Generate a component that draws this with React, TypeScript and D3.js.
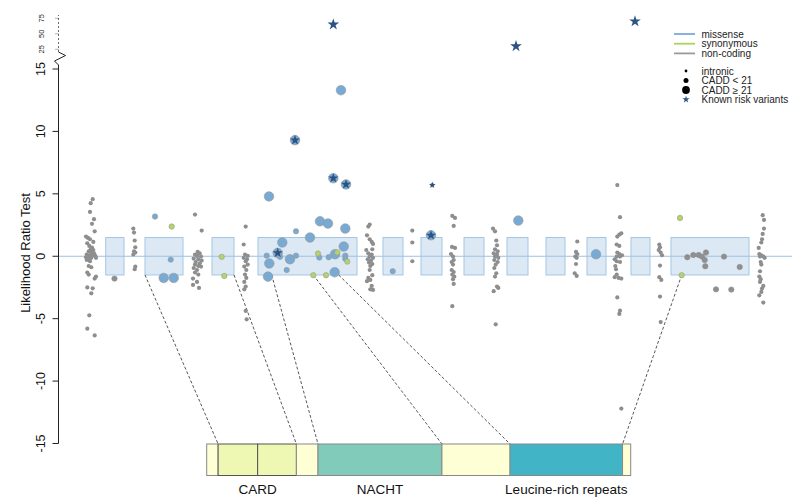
import React from "react";
import * as d3 from "d3";

// ---------- data ----------
// genomic layout positions (relative units) of exons
const exons: [number, number][] = [
  [105.7, 124], [145, 183], [212, 234], [258, 357], [383, 403], [421, 442],
  [464, 484], [507, 528], [546, 565], [587, 606], [631, 650], [671, 749],
];

// intronic variants: [position, LRT]
const intronic: [number, number][] = [
  // column 1
  [92.7, 4.57], [90.7, 4.25], [90, 3.55], [94, 2.97], [92, 2.6], [94.7, 2.0], [86, 1.58], [88, 1.47], [90, 1.36], [93.3, 1.15],
  [87.3, 1.04], [89.3, 0.83], [92, 0.7], [90.7, 0.56], [93.3, 0.5], [88.7, 0.4], [91.3, 0.3], [94, 0.24], [86.7, 0.14], [89.3, 0.08],
  [92, 0.03], [95.3, 0.03], [86, -0.08], [88.7, -0.19], [91.3, -0.13], [86.7, -0.3], [90, -0.4], [96, -0.13], [88.7, -0.78], [91.3, -0.88],
  [87.3, -1.3], [88.7, -1.47], [96, -1.63], [94.7, -1.79], [87.3, -2.5], [92.7, -2.57], [91.3, -2.97], [89.3, -4.73], [87.3, -5.8], [94.7, -6.34],
  // column 2
  [133.3, 2.22], [134, 1.9], [134.7, 1.26], [135.3, 0.72], [134, 0.4], [135.3, 0.3], [133.3, 0.14], [135.3, -0.83], [134.7, -1.04],
  // column 3
  [195, 3.34], [201.7, 2.06], [197.7, 0.35], [199.7, 0.24], [195, 0.14], [197, 0.03], [201, -0.03], [193.7, -0.19], [198.3, -0.24],
  [201.7, -0.35], [195.7, -0.46], [199.7, -0.56], [195, -0.67], [198.3, -0.78], [201, -0.83], [193.7, -0.94], [197, -1.1],
  [195, -1.3], [198.3, -1.47], [193, -1.79], [197, -2.06], [193, -2.3], [199, -2.54],
  // column 4
  [245.7, 2.38], [243.7, 0.94], [245, 0.14], [247.7, 0.03], [243.7, -0.13], [247, -0.24], [245.7, -0.4], [247.7, -0.67], [244.3, -0.83],
  [246.3, -1.1], [245, -1.47], [246.3, -1.74], [244.3, -2.06], [245.7, -2.43], [244.3, -2.65], [245.7, -4.38], [246.7, -5.05],
  // column 5
  [369.7, 2.54], [368.3, 2.38], [367, 1.68], [369.7, 1.36], [371.7, 1.15], [373, 0.99], [366.3, 0.5], [372.3, 0.56],
  [368.3, 0.24], [371.7, 0.14], [369.7, -0.03], [373, -0.13], [367.7, -0.24], [371, -0.35], [369, -0.51], [372.3, -0.62], [370.3, -0.78],
  [369.7, -1.1], [372.3, -1.52], [368.3, -1.74], [370.3, -1.9], [367, -2.0], [371.7, -2.38], [370.3, -2.65], [373, -2.7],
  // column 6
  [412.3, 2.06], [412.3, 1.1], [412.3, -0.4],
  // column 7
  [452.3, 3.23], [455, 3.07], [453.7, 2.43], [455, 0.67], [452, 0.75], [451, 0.18], [453, -0.03], [453.7, -0.3], [451.7, -0.46], [453, -0.67],
  [451.7, -1.1], [453.7, -1.26], [452.3, -1.47], [454.3, -1.63], [453, -1.84], [453.7, -2.22], [452.3, -4.0],
  // column 8
  [493, 2.22], [495, 2.0], [496.3, 1.26], [497, 0.88], [495, 0.56], [497.7, 0.4], [493.7, 0.24], [497, 0.14], [495, -0.03], [498.3, -0.13],
  [494.3, -0.3], [497.7, -0.46], [495.7, -0.67], [494.3, -0.94], [496.3, -1.36], [495, -1.63], [497, -2.43], [498.3, -2.54], [493.7, -2.8], [495.7, -5.45],
  // column 9
  [577.3, 1.18], [576, 0.35], [577.3, 0.18], [575.3, -0.03], [576.7, -0.13], [576, -0.62], [574.7, -1.36], [576.7, -1.58],
  // column 10
  [617.3, 5.7], [620, 3.13], [621.3, 1.84], [619.3, 1.74], [617.3, 1.58], [616.7, 0.94], [619.3, 0.83], [617.3, 0.3], [619.3, 0.18], [622, 0.08],
  [616.7, -0.03], [620, -0.03], [614.7, -0.24], [616.7, -0.4], [620, -0.46], [615.3, -0.78], [616, -1.04], [616.7, -1.47], [614.7, -1.68],
  [618.7, -1.74], [621.3, -1.79], [617.3, -3.3], [620, -4.36], [619.3, -4.62], [621.3, -12.2],
  // column 11
  [659.3, 0.94], [660, 0.72], [658.7, 0.5], [660.7, 0.3], [662, 0.08], [660, -0.75], [659.3, -1.68], [661.3, -1.9], [660, -3.23], [660.7, -5.27],
  // column 12
  [762.7, 3.29], [764, 2.91], [764, 2.22], [762.7, 1.79], [762, 1.36], [761.3, 1.1], [758.7, 0.67], [759.3, 0.18], [761.3, 0.08], [763.3, -0.03],
  [764.7, -0.13], [760, -0.03], [760.7, -0.46], [761.3, -0.67], [760, -1.2], [759.3, -1.63], [760.7, -1.84], [760, -2.06], [763.3, -2.38],
  [762, -2.59], [761.3, -2.86], [759.3, -3.13], [763.3, -3.71],
  // small point with known risk flag
  [432.3, 5.7],
];

// coding / scored variants: [position, LRT, class, CADD size]  class: m=missense s=synonymous n=non-coding ; size c=<21 C=>=21
const scored: [number, number, string, string][] = [
  [114.5, -1.79, "n", "c"],
  [155, 3.18, "m", "c"], [171.7, 2.38, "s", "c"], [170.7, -0.27, "m", "c"], [163.7, -1.74, "m", "C"], [173.7, -1.74, "m", "C"],
  [221.7, -0.05, "s", "c"], [224.3, -1.58, "s", "c"],
  [269, 4.79, "m", "C"], [277.7, 0.27, "m", "C"], [282.3, 1.1, "m", "C"], [269.3, -0.58, "m", "C"], [268, -1.63, "m", "C"],
  [290, -0.24, "m", "C"], [310, 1.5, "m", "C"], [320, 2.8, "m", "C"], [328, 2.62, "m", "C"], [345.3, 2.22, "m", "C"],
  [343.7, 0.78, "m", "C"], [335, 0.16, "m", "C"], [334.7, -1.28, "m", "C"], [333.3, 6.25, "m", "C"], [346, 5.75, "m", "C"],
  [341, 13.3, "m", "C"], [295, 9.3, "m", "C"],
  [266.7, 0.05, "m", "c"], [280, -0.05, "m", "c"], [296, 0.05, "m", "c"], [286.7, -1.1, "m", "c"], [296, 2.0, "m", "c"],
  [319.3, -0.1, "m", "c"], [328.7, -0.08, "m", "c"], [345.3, 0.05, "m", "c"], [345.3, -0.2, "m", "c"],
  [318, 0.22, "s", "c"], [337.3, 0.3, "s", "c"], [347.3, -0.43, "s", "c"], [313.3, -1.52, "s", "c"], [326, -1.52, "s", "c"],
  [392.7, -1.2, "m", "c"], [431, 1.68, "m", "C"], [518.3, 2.86, "m", "C"], [596, 0.16, "m", "C"],
  [680, 3.07, "s", "c"], [681.7, -1.52, "s", "c"],
  [687.3, -0.08, "n", "c"], [693.3, 0.1, "n", "c"], [698.7, 0.1, "n", "c"], [702, -0.03, "n", "c"], [706, 0.3, "n", "c"],
  [704.7, -0.3, "n", "c"], [705.3, -0.8, "n", "c"], [724, -0.03, "n", "c"], [739.7, -0.86, "n", "c"], [716, -2.65, "n", "c"], [731.3, -2.67, "n", "c"],
];

// known risk variants: [position, LRT]
const knownRisk: [number, number][] = [
  [277.7, 0.27], [333.3, 6.25], [346, 5.75], [295, 9.3], [431, 1.68], [432.3, 5.7],
  [333.3, 65], [516, 30], [635, 70],
];

// protein domains (aa)
const proteinLength = 1040;
const domains: [number, number, string][] = [
  [0, 28, "none"], [28, 125, "card"], [125, 220, "card"], [220, 273, "none"], [273, 577, "nacht"],
  [577, 744, "none"], [744, 1020, "lrr"], [1020, 1040, "none"],
];
const domainLabels: [string, number][] = [["CARD", 125], ["NACHT", 425], ["Leucine-rich repeats", 882]];
// genomic position -> protein aa
const mapping: [number, number][] = [
  [145, 28], [234, 220], [271.7, 273], [313.3, 577], [338.7, 744], [681.7, 1020],
];

const yTicks = [-15, -10, -5, 0, 5, 10, 15];
const yTopTicks = [25, 50, 75];

const legendLines: [string, string][] = [["missense", "m"], ["synonymous", "s"], ["non-coding", "n"]];
const legendDots: [string, number][] = [["intronic", 1.4], ["CADD < 21", 2.5], ["CADD \u2265 21", 3.9]];

// ---------- styles ----------
const fillColor: Record<string, string> = { m: "#78AAD3", s: "#B3D567", n: "#8F8F8F" };
const lineColor: Record<string, string> = { m: "#7AAAD6", s: "#A9D65A", n: "#9A9A9A" };
const domainColor: Record<string, string> = { none: "#FFFFD6", card: "#EEF8B2", nacht: "#80CBBA", lrr: "#41B5C5" };
const radius: Record<string, number> = { c: 2.7, C: 4.8 };
const FONT = "'Liberation Sans', Arial, Helvetica, sans-serif";

export default function App() {
  const W = 800, H = 501;
  const x = d3.scaleLinear().domain([0, 800]).range([0, 800]);
  const y = d3.scaleLinear().domain([-15, 15]).range([443.5, 69]);
  const yTop = d3.scaleLinear().domain([25, 75]).range([49.3, 18.3]);
  const p = d3.scaleLinear().domain([0, proteinLength]).range([206.7, 630.7]);
  const yv = (v: number) => (v > 15 ? yTop(v) : y(v));
  const axisX = 58.5;
  const barTop = 444, barBot = 475.5;
  const starSmall = d3.symbol().type(d3.symbolStar).size(14)()!;
  const starMid = d3.symbol().type(d3.symbolStar).size(32)()!;
  const starBig = d3.symbol().type(d3.symbolStar).size(42)()!;

  return (
    <svg width={W} height={H} style={{ position: "absolute", left: 0, top: 0, background: "#fff" }} fontFamily={FONT}>
      {/* exon boxes */}
      {exons.map(([a, b], i) => (
        <rect key={"e" + i} x={x(a)} y={y(1.5)} width={x(b) - x(a)} height={y(-1.5) - y(1.5)}
          fill="#DCE9F5" stroke="#A3C6E4" strokeWidth={1} />
      ))}
      {/* zero line */}
      <line x1={axisX} x2={792} y1={y(0)} y2={y(0)} stroke="#9DC2E3" strokeWidth={1} />

      {/* mapping dashed lines */}
      {mapping.map(([g, aa], i) => (
        <line key={"m" + i} x1={x(g)} y1={y(-1.5)} x2={p(aa)} y2={barTop} stroke="#444" strokeWidth={0.9} strokeDasharray="3,2" />
      ))}

      {/* intronic points */}
      {intronic.map(([g, v], i) => (
        <circle key={"i" + i} cx={x(g)} cy={yv(v)} r={2.1} fill="#8E8E8E" />
      ))}
      {/* scored points */}
      {scored.map(([g, v, k, s], i) => (
        <circle key={"s" + i} cx={x(g)} cy={yv(v)} r={radius[s]} fill={fillColor[k]}
          stroke={k === "n" ? "#8E8E8E" : "#999"} strokeWidth={0.6} />
      ))}
      {/* known risk variants */}
      {knownRisk.map(([g, v], i) => (
        <path key={"k" + i} d={v > 15 ? starBig : (g === 432.3 ? starSmall : starMid)}
          transform={`translate(${x(g)},${yv(v)})`} fill="#2D5384" />
      ))}

      {/* y axis */}
      <line x1={axisX} x2={axisX} y1={y(-15)} y2={y(15)} stroke="#222" strokeWidth={1} />
      {yTicks.map((t) => (
        <g key={"t" + t}>
          <line x1={axisX - 6} x2={axisX} y1={y(t)} y2={y(t)} stroke="#222" strokeWidth={1} />
          <text transform={`translate(${44.5},${y(t)}) rotate(-90)`} textAnchor="middle" fontSize={12.5} fill="#111">{t}</text>
        </g>
      ))}
      {/* axis break */}
      <polyline points={`${axisX},${y(15)} ${axisX},65 ${axisX - 4},61 ${axisX + 7},55.5 ${axisX},52`} fill="none" stroke="#222" strokeWidth={1} />
      <line x1={axisX} x2={axisX} y1={52} y2={15} stroke="#444" strokeWidth={0.8} strokeDasharray="2,2" />
      {yTopTicks.map((t) => (
        <g key={"tt" + t}>
          <line x1={axisX - 3} x2={axisX} y1={yTop(t)} y2={yTop(t)} stroke="#444" strokeWidth={0.8} strokeDasharray="1,1" />
          <text transform={`translate(${44},${yTop(t)}) rotate(-90)`} textAnchor="middle" fontSize={7.5} fill="#222">{t}</text>
        </g>
      ))}
      <text transform={`translate(${30},${253}) rotate(-90)`} textAnchor="middle" fontSize={13} fill="#111">Likelihood Ratio Test</text>

      {/* protein domain bar */}
      {domains.map(([a, b, t], i) => (
        <rect key={"d" + i} x={p(a)} y={barTop} width={p(b) - p(a)} height={barBot - barTop}
          fill={domainColor[t]} stroke={t === "card" ? "#555" : "#888"} strokeWidth={1} />
      ))}
      {domainLabels.map(([l, aa]) => (
        <text key={l} x={p(aa)} y={494} textAnchor="middle" fontSize={13.5} fill="#111">{l}</text>
      ))}

      {/* legend */}
      {legendLines.map(([l, k], i) => (
        <g key={l}>
          <line x1={674} x2={695} y1={34 + i * 9.7} y2={34 + i * 9.7} stroke={lineColor[k]} strokeWidth={1.8} />
          <text x={701.5} y={37.5 + i * 9.7} fontSize={10} fill="#222">{l}</text>
        </g>
      ))}
      {legendDots.map(([l, r], i) => (
        <g key={l}>
          <circle cx={686} cy={71 + i * 9.5} r={r} fill="#000" />
          <text x={701.5} y={74.5 + i * 9.5} fontSize={10} fill="#222">{l}</text>
        </g>
      ))}
      <path d={starMid} transform={`translate(686,99.5) scale(0.7)`} fill="#2D5384" />
      <text x={701.5} y={103} fontSize={10} fill="#222">Known risk variants</text>
    </svg>
  );
}
